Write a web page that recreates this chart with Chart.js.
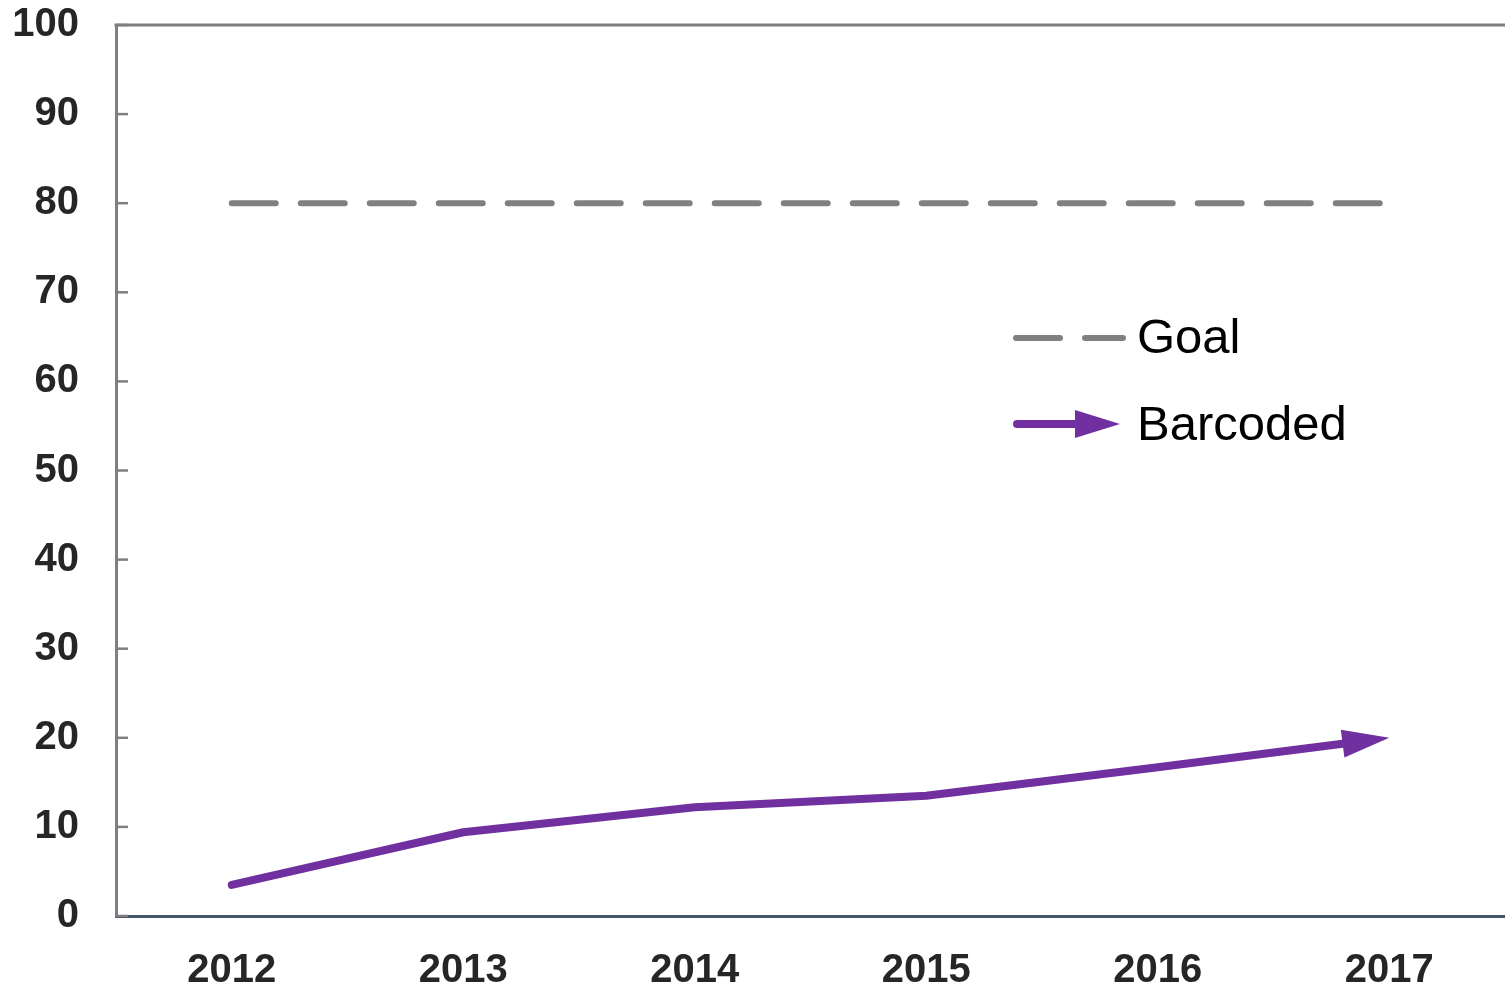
<!DOCTYPE html>
<html>
<head>
<meta charset="utf-8">
<script src="https://cdn.jsdelivr.net/npm/chart.js@4/dist/chart.umd.min.js"></script>
<style>
  body { margin: 0; background: #fff; }
  #wrap { width: 1505px; height: 989px; position: relative; }
</style>
</head>
<body>
<div id="wrap"><canvas id="myChart"></canvas></div>
<script>
const years = ['2012', '2013', '2014', '2015', '2016', '2017'];
const barcoded = [3.5, 9.4, 12.2, 13.5, 16.7, 20];
const goal = [80, 80, 80, 80, 80, 80];

const purple = '#7030a0';
const grey = '#808080';
const headLen = 47;
const headHalf = 14;

function arrowHead(ctx, x0, y0, x1, y1, len, half) {
    const a = Math.atan2(y1 - y0, x1 - x0);
    const bx = x1 - Math.cos(a) * len, by = y1 - Math.sin(a) * len;
    ctx.beginPath();
    ctx.moveTo(x1, y1);
    ctx.lineTo(bx + Math.sin(a) * half, by - Math.cos(a) * half);
    ctx.lineTo(bx - Math.sin(a) * half, by + Math.cos(a) * half);
    ctx.closePath();
    ctx.fill();
}

// the barcoded line stops at the arrow base, the head is filled afterwards
let saved = null;
const arrowLine = {
    id: 'arrowLine',
    beforeDatasetDraw(chart, args) {
        if (args.index !== 1) return;
        const pts = args.meta.data;
        const p0 = pts[pts.length - 2], p1 = pts[pts.length - 1];
        const a = Math.atan2(p1.y - p0.y, p1.x - p0.x);
        saved = { x: p1.x, y: p1.y, px: p0.x, py: p0.y };
        p1.x = saved.x - Math.cos(a) * (headLen - 4);
        p1.y = saved.y - Math.sin(a) * (headLen - 4);
    },
    afterDatasetDraw(chart, args) {
        if (args.index !== 1 || !saved) return;
        const pts = args.meta.data;
        const p1 = pts[pts.length - 1];
        p1.x = saved.x;
        p1.y = saved.y;
        const ctx = chart.ctx;
        ctx.save();
        ctx.fillStyle = purple;
        arrowHead(ctx, saved.px, saved.py, saved.x, saved.y, headLen, headHalf);
        ctx.restore();
    }
};

// frame top line, inner y ticks and the legend box
const extras = {
    id: 'extras',
    afterDatasetsDraw(chart) {
        const ctx = chart.ctx;
        const area = chart.chartArea;
        const y = chart.scales.y;
        ctx.save();

        ctx.strokeStyle = '#7f7f7f';
        ctx.lineWidth = 3;
        ctx.beginPath();
        ctx.moveTo(area.left - 1.5, area.top);
        ctx.lineTo(chart.width, area.top);
        ctx.stroke();

        ctx.lineWidth = 2.5;
        y.ticks.forEach(t => {
            const py = y.getPixelForValue(t.value);
            ctx.beginPath();
            ctx.moveTo(area.left, py);
            ctx.lineTo(area.left + 12, py);
            ctx.stroke();
        });

        // legend
        ctx.lineCap = 'round';
        ctx.strokeStyle = grey;
        ctx.lineWidth = 6;
        ctx.beginPath();
        ctx.moveTo(1016, 338); ctx.lineTo(1060, 338);
        ctx.moveTo(1085, 338); ctx.lineTo(1123, 338);
        ctx.stroke();

        ctx.strokeStyle = purple;
        ctx.fillStyle = purple;
        ctx.lineWidth = 8;
        ctx.beginPath();
        ctx.moveTo(1017, 424); ctx.lineTo(1080, 424);
        ctx.stroke();
        arrowHead(ctx, 1017, 424, 1120, 424, 45, 14);

        ctx.fillStyle = '#000';
        ctx.font = '49px "Liberation Sans", Arial, sans-serif';
        ctx.textAlign = 'left';
        ctx.textBaseline = 'alphabetic';
        ctx.fillText('Goal', 1137, 353);
        ctx.fillText('Barcoded', 1137, 440);
        ctx.restore();
    }
};

const tickFont = { family: '"Liberation Sans", Arial, sans-serif', size: 40, weight: 'bold' };

const config = {
    type: 'line',
    data: {
        labels: years,
        datasets: [{
            label: 'Goal',
            data: goal,
            borderColor: grey,
            borderWidth: 6,
            borderDash: [44, 25],
            borderCapStyle: 'round',
            pointRadius: 0,
            fill: false
        }, {
            label: 'Barcoded',
            data: barcoded,
            borderColor: purple,
            borderWidth: 8,
            borderCapStyle: 'round',
            borderJoinStyle: 'round',
            pointRadius: 0,
            tension: 0,
            fill: false
        }]
    },
    options: {
        responsive: true,
        maintainAspectRatio: false,
        animation: false,
        layout: { autoPadding: false, padding: { top: 25, left: 0, right: 0, bottom: 0 } },
        plugins: { legend: { display: false }, tooltip: { enabled: false } },
        scales: {
            x: {
                offset: true,
                grid: { drawOnChartArea: false, drawTicks: false },
                border: { color: '#44546a', width: 3 },
                ticks: { font: tickFont, color: '#262626', padding: 31, maxRotation: 0 },
                afterFit(s) {
                    s.height = 73;
                    s.paddingLeft = 0;
                    s.paddingRight = 0;
                }
            },
            y: {
                min: 0,
                max: 100,
                grid: { drawOnChartArea: false, drawTicks: false },
                border: { color: '#7f7f7f', width: 3 },
                ticks: { stepSize: 10, font: tickFont, color: '#262626', padding: 37 },
                afterFit(s) {
                    s.width = 116;
                    s.paddingTop = 0;
                    s.paddingBottom = 0;
                }
            }
        }
    },
    plugins: [arrowLine, extras]
};

const myChart = new Chart(document.getElementById('myChart'), config);
</script>
</body>
</html>
